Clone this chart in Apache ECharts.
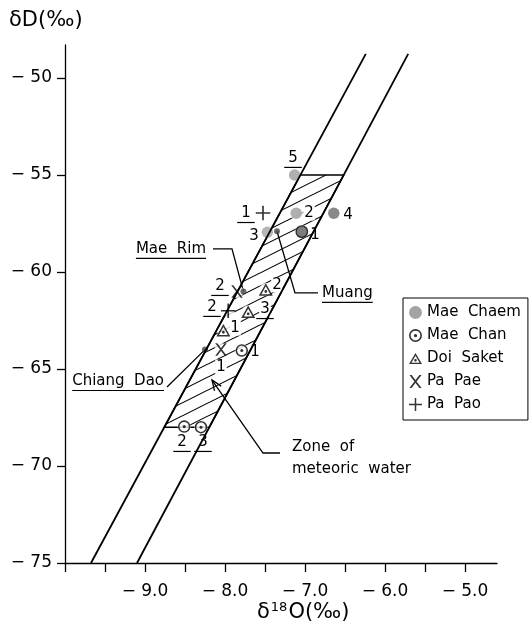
<!DOCTYPE html>
<html><head><meta charset="utf-8">
<script src="https://cdn.jsdelivr.net/npm/echarts@6/dist/echarts.min.js"></script>
<style>html,body{margin:0;padding:0;background:#fff}#chart{width:529px;height:635px}</style>
</head><body><div id="chart"></div>
<script>
// ---------------- data ----------------
const xTickValues = [-10, -9.5, -9, -8.5, -8, -7.5, -7, -6.5, -6, -5.5, -5];
const xLabelValues = [-9, -8, -7, -6, -5];
const yTickValues = [-75, -70, -65, -60, -55, -50];

const maeChaem = [[-7.04, -57.92], [-7.11, -56.97], [-7.47, -57.95], [-6.64, -56.97], [-7.13, -55.0]];
const maeChan  = [[-7.79, -64.05], [-8.51, -67.97], [-8.30, -68.0]];
const doiSaket = [[-8.02, -63.0], [-7.49, -60.9], [-7.71, -62.05]];
const paPae    = [[-8.05, -64.0], [-7.85, -61.0]];
const paPao    = [[-7.525, -56.96], [-7.96, -62.0]];
const localities = [[-7.35, -57.9], [-7.77, -61.0], [-8.25, -64.0]]; // Muang, Mae Rim, Chiang Dao

const bandLeft  = [[-9.675, -75], [-6.24, -48.76]];
const bandRight = [[-9.1, -75], [-5.71, -48.76]];
const zoneTop = -55;
const zoneBottom = -68;

// labels: text, x, y, align, underline, white background
const labels = [
  ['5', -7.15, -54.12, 'center', true, false],
  ['2', -6.95, -56.96, 'center', false, true],
  ['4', -6.4625, -57.06, 'center', false, false],
  ['3', -7.6375, -58.14, 'center', false, false],
  ['1', -6.875, -58.09, 'center', false, false],
  ['1', -7.7375, -56.96, 'center', true, false],
  ['2', -8.0625, -60.72, 'center', true, false],
  ['2', -7.35, -60.67, 'center', false, true],
  ['2', -8.1625, -61.80, 'center', true, false],
  ['3', -7.5, -61.91, 'center', true, true],
  ['1', -7.875, -62.89, 'center', false, true],
  ['1', -8.05, -64.90, 'center', false, true],
  ['1', -7.625, -64.12, 'center', false, false],
  ['2', -8.5375, -68.76, 'center', true, false],
  ['3', -8.275, -68.76, 'center', true, false],
  ['Mae  Rim', -8.2375, -58.81, 'right', true, false],
  ['Muang', -6.7875, -61.08, 'left', true, false],
  ['Chiang  Dao', -8.7625, -65.62, 'right', true, false],
  ['Zone  of', -7.1625, -69.02, 'left', false, false],
  ['meteoric  water', -7.1625, -70.15, 'left', false, false]
];

const leaders = [
  { pts: [[-7.77, -61.0], [-7.9125, -58.81], [-8.15, -58.81]], arrow: false },
  { pts: [[-7.35, -57.9], [-7.125, -61.08], [-6.8375, -61.08]], arrow: false },
  { pts: [[-8.25, -64.0], [-8.725, -65.93]], arrow: false },
  { pts: [[-8.1625, -65.57], [-7.525, -69.33], [-7.3125, -69.33]], arrow: true }
];

// ---------------- styles ----------------
const FONT = 'DejaVu Sans';
const maeChaemFill = ['#5c5c5c', '#9c9c9c', '#a2a2a2', '#6c6c6c', '#9c9c9c'];
const SYM_DOTCIRCLE = 'path://M0,-6A6,6,0,1,1,0,6A6,6,0,1,1,0,-6Z M0,-4.5A4.5,4.5,0,1,0,0,4.5A4.5,4.5,0,1,0,0,-4.5Z M0,-1.5A1.5,1.5,0,1,1,0,1.5A1.5,1.5,0,1,1,0,-1.5Z';
const SYM_TRI = 'path://M0,-6.5L7,5.5L-7,5.5Z M0,-3.5L-4.4,4.0L4.4,4.0Z M0,0.1A1.4,1.4,0,1,1,0,2.9A1.4,1.4,0,1,1,0,0.1Z';
const SYM_X = 'path://M-5.6,-6L-3.6,-6L5.6,6L3.6,6Z M3.6,-6L5.6,-6L-3.6,6L-5.6,6Z';
const SYM_PLUS = 'path://M-7,-0.8L7,-0.8L7,0.8L-7,0.8Z M-0.8,-7L0.8,-7L0.8,7L-0.8,7Z';

// hatch pattern
const pat = document.createElement('canvas');
pat.width = 26; pat.height = 13;
(function () {
  const pc = pat.getContext('2d');
  pc.strokeStyle = '#000'; pc.lineWidth = 1.1;
  for (let k = -1; k <= 1; k++) {
    pc.beginPath();
    pc.moveTo(-2, 13 * (k + 1) + 1);
    pc.lineTo(28, 13 * k - 1);
    pc.stroke();
  }
})();

const mctx = document.createElement('canvas').getContext('2d');
mctx.font = '15px "' + FONT + '"';
function textW(t) { return mctx.measureText(t).width; }

function along(line, y) {
  const a = line[0], b = line[1];
  const t = (y - a[1]) / (b[1] - a[1]);
  return [a[0] + t * (b[0] - a[0]), y];
}
const zoneCorners = [along(bandLeft, zoneTop), along(bandRight, zoneTop), along(bandRight, zoneBottom), along(bandLeft, zoneBottom)];

const allPoints = [].concat(maeChaem, maeChan, doiSaket, paPae, paPao);
const minus = '\u2212 ';

const chart = echarts.init(document.getElementById('chart'), null, { renderer: 'canvas' });
chart.setOption({
  animation: false,
  backgroundColor: '#fff',
  title: [
    { text: 'δD(‰)', left: 9, top: 10, padding: 0,
      textStyle: { fontFamily: FONT, fontSize: 21, fontWeight: 'normal', color: '#000' } },
    { text: '{a|δ}{b|18}{a|O(‰)}', left: 257, top: 601, padding: 0,
      textStyle: { fontFamily: FONT, fontWeight: 'normal', fontSize: 20, color: '#000', rich: {
        a: { fontFamily: FONT, fontWeight: 'normal', fontSize: 21, color: '#000' },
        b: { fontFamily: FONT, fontWeight: 'normal', fontSize: 13, color: '#000', padding: [0, 1, 10, 1] }
      } } }
  ],
  grid: { left: 65, right: 32, top: 45, bottom: 72, containLabel: false },
  xAxis: {
    type: 'value', min: -10, max: -4.6, interval: 0.5,
    axisLine: { onZero: false, lineStyle: { color: '#000', width: 1.3 } },
    axisTick: { customValues: xTickValues, length: 9, lineStyle: { color: '#000', width: 1.3 } },
    axisLabel: { customValues: xLabelValues, margin: 20, color: '#000', fontFamily: FONT, fontSize: 17,
      formatter: v => minus + Math.abs(v).toFixed(1) },
    splitLine: { show: false }
  },
  yAxis: {
    type: 'value', min: -75, max: -48.3, interval: 5,
    axisLine: { onZero: false, lineStyle: { color: '#000', width: 1.3 } },
    axisTick: { customValues: yTickValues, length: 8, lineStyle: { color: '#000', width: 1.3 } },
    axisLabel: { customValues: yTickValues, margin: 13, color: '#000', fontFamily: FONT, fontSize: 17,
      formatter: v => minus + Math.abs(v) },
    splitLine: { show: false }
  },
  legend: {
    orient: 'vertical', left: 403, top: 298,
    itemWidth: 13, itemHeight: 13, itemGap: 8,
    padding: [7, 7, 8, 6],
    borderColor: '#000', borderWidth: 1, backgroundColor: '#fff',
    selectedMode: false,
    textStyle: { fontFamily: FONT, fontSize: 15, color: '#000' },
    data: [
      { name: 'Mae  Chaem', icon: 'circle', itemStyle: { color: '#8c8c8c' } },
      { name: 'Mae  Chan', icon: SYM_DOTCIRCLE, itemStyle: { color: '#000' } },
      { name: 'Doi  Saket', icon: SYM_TRI, itemStyle: { color: '#000' } },
      { name: 'Pa  Pae', icon: SYM_X, itemStyle: { color: '#000' } },
      { name: 'Pa  Pao', icon: SYM_PLUS, itemStyle: { color: '#000' } }
    ]
  },
  series: [
    { name: 'zone', type: 'custom', silent: true, data: [zoneCorners[0]],
      renderItem: (params, api) => ({
        type: 'polygon',
        shape: { points: zoneCorners.map(p => api.coord(p)) },
        style: { fill: { image: pat, repeat: 'repeat' }, stroke: '#000', lineWidth: 1.5 }
      }) },
    { name: 'bandL', type: 'line', data: bandLeft, symbol: 'none', silent: true,
      lineStyle: { color: '#000', width: 1.8 } },
    { name: 'bandR', type: 'line', data: bandRight, symbol: 'none', silent: true,
      lineStyle: { color: '#000', width: 1.8 } },
    { name: 'leaders', type: 'custom', silent: true, data: leaders.map(l => l.pts[0]),
      renderItem: (params, api) => {
        const L = leaders[params.dataIndex];
        const pts = L.pts.map(p => api.coord(p));
        const ch = [{ type: 'polyline', shape: { points: pts }, style: { stroke: '#000', lineWidth: 1.3, fill: 'none' } }];
        if (L.arrow) {
          const t = pts[0], n = pts[1];
          const ang = Math.atan2(n[1] - t[1], n[0] - t[0]);
          const len = 11, sp = 0.38;
          ch.push({ type: 'polyline', shape: { points: [
            [t[0] + len * Math.cos(ang - sp), t[1] + len * Math.sin(ang - sp)], t,
            [t[0] + len * Math.cos(ang + sp), t[1] + len * Math.sin(ang + sp)]] },
            style: { stroke: '#000', lineWidth: 1.3, fill: 'none' } });
        }
        return { type: 'group', children: ch };
      } },
    { name: 'halo', type: 'scatter', silent: true, data: allPoints, symbol: 'circle', symbolSize: 13,
      itemStyle: { color: '#fff' } },
    { name: 'Mae  Chaem', type: 'scatter', symbol: 'circle', symbolSize: 11.5,
      itemStyle: { color: '#8c8c8c' },
      data: maeChaem.map((p, i) => ({ value: p, itemStyle: i === 0 ? { color: maeChaemFill[i], borderColor: '#000', borderWidth: 1.3 } : { color: maeChaemFill[i] } })) },
    { name: 'Mae  Chan', type: 'scatter', symbol: SYM_DOTCIRCLE, symbolSize: 12.5, itemStyle: { color: '#000' }, data: maeChan },
    { name: 'Doi  Saket', type: 'scatter', symbol: SYM_TRI, symbolSize: [14, 12.5], itemStyle: { color: '#000' }, data: doiSaket },
    { name: 'Pa  Pae', type: 'scatter', symbol: SYM_X, symbolSize: [11.5, 12.5], itemStyle: { color: '#000' }, data: paPae },
    { name: 'Pa  Pao', type: 'scatter', symbol: SYM_PLUS, symbolSize: 14.5, itemStyle: { color: '#000' }, data: paPao },
    { name: 'localities', type: 'scatter', silent: true, symbol: 'circle', symbolSize: 6,
      itemStyle: { color: '#444' }, data: localities },
    { name: 'labels', type: 'custom', silent: true, data: labels.map(l => [l[1], l[2]]),
      renderItem: (params, api) => {
        const L = labels[params.dataIndex];
        const p = api.coord([L[1], L[2]]);
        const ch = [{ type: 'text', x: p[0], y: p[1],
          style: Object.assign({ text: L[0], fontFamily: FONT, fontSize: 15, fill: '#000',
            align: L[3], verticalAlign: 'middle' },
            L[5] ? { backgroundColor: '#fff', padding: [0, 1] } : {}) }];
        if (L[4]) {
          const w = textW(L[0]);
          const pad = L[0].length === 1 ? 4 : 0;
          let x1;
          if (L[3] === 'center') x1 = p[0] - w / 2;
          else if (L[3] === 'right') x1 = p[0] - w;
          else x1 = p[0];
          const y = p[1] + 9.5;
          ch.push({ type: 'line', shape: { x1: x1 - pad, y1: y, x2: x1 + w + pad, y2: y },
            style: { stroke: '#000', lineWidth: 1.2 } });
        }
        return { type: 'group', children: ch };
      } }
  ]
});
</script></body></html>
